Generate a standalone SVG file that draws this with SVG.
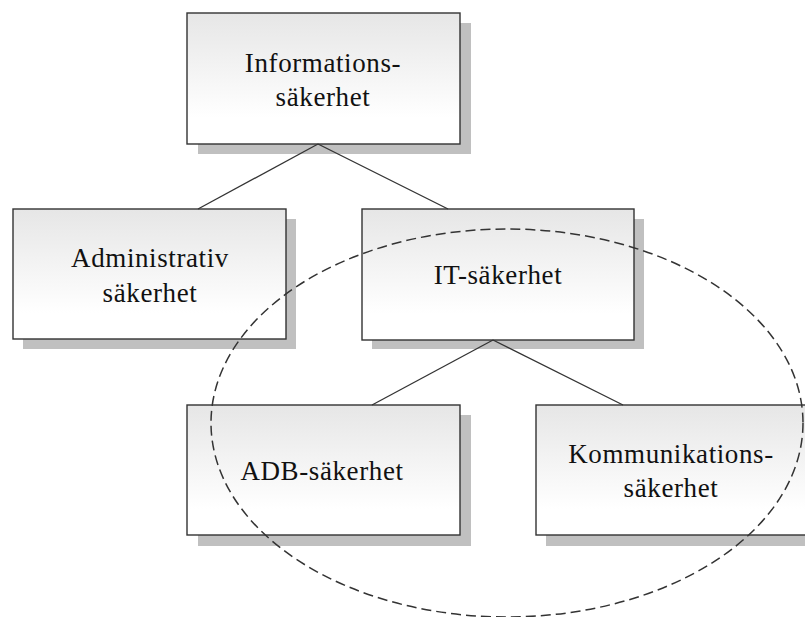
<svg xmlns="http://www.w3.org/2000/svg" width="805" height="617" viewBox="0 0 805 617">
  <defs>
    <linearGradient id="boxFill" x1="0" y1="0" x2="0" y2="1">
      <stop offset="0" stop-color="#e6e6e6"/>
      <stop offset="0.8" stop-color="#ffffff"/>
    </linearGradient>
  </defs>
  <style>
    .shadow { fill: #c0c0c0; }
    .box { fill: url(#boxFill); stroke: #333333; stroke-width: 1.4; }
    .label { font-family: "Liberation Serif", "Times New Roman", serif; font-size: 27px; fill: #111111; text-anchor: middle; letter-spacing: 0.6px; }
    .link { stroke: #333333; stroke-width: 1.3; fill: none; }
    .scope { fill: none; stroke: #333333; stroke-width: 1.5; stroke-dasharray: 10 5; }
  </style>
  <rect width="805" height="617" fill="#ffffff"/>

  <g id="informationssakerhet">
    <rect class="shadow" x="198" y="23" width="273" height="131"/>
    <rect class="box" x="187" y="13" width="273" height="131"/>
    <text class="label" x="323" y="72">Informations-</text>
    <text class="label" x="323" y="106">säkerhet</text>
  </g>

  <g id="administrativ">
    <rect class="shadow" x="23" y="219" width="273" height="130"/>
    <rect class="box" x="13" y="209" width="273" height="130"/>
    <text class="label" x="150" y="267">Administrativ</text>
    <text class="label" x="150" y="302">säkerhet</text>
  </g>

  <g id="it-sakerhet">
    <rect class="shadow" x="372" y="219" width="272" height="130"/>
    <rect class="box" x="362" y="209" width="272" height="131"/>
    <text class="label" x="498" y="284">IT-säkerhet</text>
  </g>

  <g id="adb-sakerhet">
    <rect class="shadow" x="198" y="415" width="273" height="131"/>
    <rect class="box" x="187" y="405" width="273" height="130"/>
    <text class="label" x="322" y="480">ADB-säkerhet</text>
  </g>

  <g id="kommunikation">
    <rect class="shadow" x="546" y="415" width="273" height="131"/>
    <rect class="box" x="536" y="405" width="273" height="130"/>
    <text class="label" x="671" y="463">Kommunikations-</text>
    <text class="label" x="671" y="497">säkerhet</text>
  </g>

  <!-- hierarchy connectors, drawn over the drop shadows -->
  <g id="connectors">
    <line class="link" x1="318" y1="144" x2="198" y2="209"/>
    <line class="link" x1="318" y1="144" x2="448" y2="209"/>
    <line class="link" x1="493" y1="340" x2="372" y2="405"/>
    <line class="link" x1="493" y1="340" x2="623" y2="405"/>
  </g>

  <!-- dashed boundary around the IT security branch -->
  <g id="it-scope">
    <ellipse class="scope" cx="507" cy="423" rx="296" ry="194"/>
  </g>
</svg>
